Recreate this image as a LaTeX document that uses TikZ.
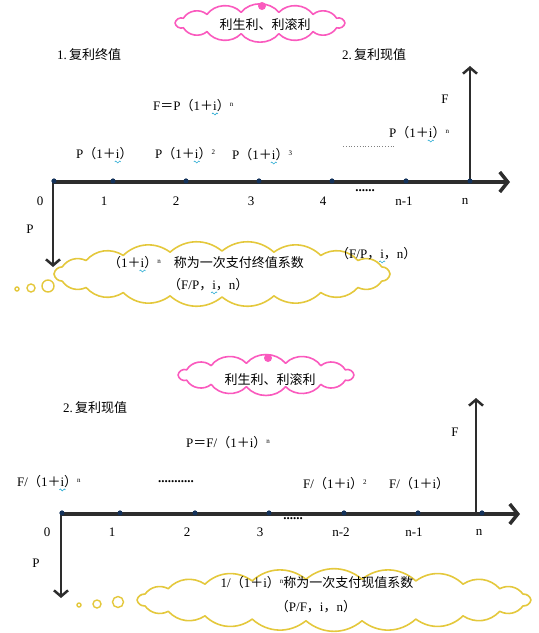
\documentclass[tikz,border=0pt]{standalone}
\usepackage{fontspec}
\setmainfont{Liberation Serif}
\newfontfamily\cjk{Noto Sans CJK SC}
\usetikzlibrary{arrows.meta}
\definecolor{pinkc}{RGB}{250,90,190}
\definecolor{yelc}{RGB}{228,200,60}
\definecolor{axc}{RGB}{45,45,45}
\definecolor{dotc}{RGB}{20,50,90}
\definecolor{wavec}{RGB}{40,170,210}
\newcommand\lp{{\cjk （}}
\newcommand\rp{{\cjk ）}}
\newcommand\cm{{\cjk ，}}
\newcommand\pl{{\cjk ＋}}
\newcommand\eq{{\cjk ＝}}
\newcommand\wi{\ooalign{i\cr\hidewidth\smash{\tikz[baseline=0pt,x=1pt,y=1pt]\draw[wavec,line width=0.6pt] (0,-3) sin (1,-2) cos (2,-3) sin (3,-4) cos (4,-3) sin (5,-2) cos (6,-3);}\hidewidth\cr}}
\newcommand\sn{\raisebox{0.75ex}{\fontsize{7}{7}\selectfont n}}
\newcommand\sq[1]{\raisebox{0.75ex}{\fontsize{7}{7}\selectfont #1}}
% cloud: cx, cy, rx, ry, N, N-1, bend, style
\newcommand\cloudshape[8]{%
  \draw[#8] ({#1+#3},{#2})
    \foreach \k in {1,...,#6}{ to[bend left=#7] ({#1+#3*cos(\k*360/#5)},{#2+#4*sin(\k*360/#5)}) }
    to[bend left=#7] cycle;}
\begin{document}
\begin{tikzpicture}[x=1pt,y=-1pt,
  every node/.style={inner sep=0pt, font=\fontsize{13}{15}\selectfont},
  lbl/.style={anchor=west},
  pinkline/.style={draw=pinkc, line width=1.6pt, fill=white, line join=round},
  yelline/.style={draw=yelc, line width=1.6pt, fill=white, line join=round},
  axisline/.style={line width=3.5pt, draw=axc, -{Straight Barb[length=8pt,width=20pt]}},
  vec/.style={line width=2.5pt, draw=axc, -{Straight Barb[length=6pt,width=14pt]}},
  tickdot/.style={circle, fill=dotc, minimum size=5pt, inner sep=0pt},
  bub/.style={circle, draw=yelc, line width=1.4pt, fill=white, inner sep=0pt},
  pdot/.style={circle, fill=pinkc, minimum size=8pt, inner sep=0pt}
]
\useasboundingbox (0,0) rectangle (539,633);

% ===================== TOP PART =====================
\cloudshape{260}{23}{85}{11}{14}{13}{50}{pinkline}
\node[pdot] (pd1) at (262,6) {};
\node (t1) at (265,25) {\cjk 利生利、利滚利};

\node[lbl] (h1) at (57,55) {1.\,{\cjk 复利终值}};
\node[lbl] (h2) at (342,55) {2.\,{\cjk 复利现值}};
\node[lbl] (f1) at (153,106) {F\eq P\lp 1\pl\wi\rp\sn};
\node (F1) at (445,99) {F};
\node[lbl] (pn1) at (389,133) {P\lp 1\pl\wi\rp\sn};
\coordinate (dl1) at (343,146);
\coordinate (dl2) at (395,146);
\draw[gray, dotted, line width=0.8pt] (dl1) -- (dl2);
\node[lbl] (pa) at (76,154) {P\lp 1\pl\wi\rp};
\node[lbl] (pb) at (155,154) {P\lp 1\pl\wi\rp\sq{2}};
\node[lbl] (pc) at (232,155) {P\lp 1\pl\wi\rp\sq{3}};

% yellow cloud
\cloudshape{222}{274}{168}{23}{20}{19}{40}{yelline}
\node[bub, minimum size=4pt] (b1) at (17,289) {};
\node[bub, minimum size=8pt] (b2) at (31,288) {};
\node[bub, minimum size=12pt] (b3) at (48,286) {};
\node[lbl] (ct1) at (108,263) {\lp 1\pl\wi\rp\sn\quad{\cjk 称为一次支付终值系数}};
\node[lbl] (ct2) at (168,285) {\lp F/P\cm\wi\cm n\rp};
\node[lbl] (ct3) at (336,254) {\lp F/P\cm\wi\cm n\rp};

% axis
\node[tickdot] (a0) at (54,181) {};
\node[tickdot] (a1) at (113,181) {};
\node[tickdot] (a2) at (186,181) {};
\node[tickdot] (a3) at (259,181) {};
\node[tickdot] (a4) at (332,181) {};
\node[tickdot] (a5) at (406,181) {};
\node[tickdot] (a6) at (470,181) {};
\coordinate (aS) at (52,182);
\coordinate (aE) at (510,182);
\coordinate (dP) at (53,267);
\coordinate (uF) at (470,66);
\coordinate (dS) at (53,180);
\coordinate (uS) at (470,182);
\draw[axisline] (aS) -- (aE);
\draw[vec] (dS) -- (dP);
\draw[vec] (uS) -- (uF);
\foreach \n in {a0,a1,a2,a3,a4,a5,a6} \node[tickdot] at (\n) {};

\node (n0) at (40,201) {0};
\node (n1) at (104,201) {1};
\node (n2) at (176,201) {2};
\node (n3) at (251,201) {3};
\node (n4) at (323,201) {4};
\node (nd) at (365,191) {\bfseries ......};
\node (n5) at (404,201) {n-1};
\node (n6) at (465,201) {n};
\node (P1) at (30,229) {P};

% ===================== BOTTOM PART =====================
\cloudshape{266}{375}{88}{12}{14}{13}{50}{pinkline}
\node[pdot] (pd2) at (268,358) {};
\node (t2) at (270,380) {\cjk 利生利、利滚利};

\node[lbl] (h3) at (63,408) {2.\,{\cjk 复利现值}};
\node[lbl] (f2) at (186,443) {P\eq F/\lp 1\pl i\rp\sn};
\node (F2) at (455,432) {F};
\node[lbl] (qa) at (17,482) {F/\lp 1\pl\wi\rp\sn};
\node[lbl] (qd) at (158,482) {\bfseries ...........};
\node[lbl] (qb) at (303,484) {F/\lp 1\pl i\rp\sq{2}};
\node[lbl] (qc) at (389,484) {F/\lp 1\pl i\rp};

% yellow cloud
\cloudshape{334}{600}{197}{21}{22}{21}{40}{yelline}
\node[bub, minimum size=4pt] (b4) at (79,605) {};
\node[bub, minimum size=8pt] (b5) at (97,604) {};
\node[bub, minimum size=11pt] (b6) at (118,602) {};
\node (ct4) at (317,583) {1/\lp 1\pl i\rp\sn{\cjk 称为一次支付现值系数}};
\node (ct5) at (316,607) {\lp P/F\cm i\cm n\rp};

% axis
\node[tickdot] (c0) at (62,513) {};
\node[tickdot] (c1) at (120,513) {};
\node[tickdot] (c2) at (195,513) {};
\node[tickdot] (c3) at (269,513) {};
\node[tickdot] (c4) at (344,513) {};
\node[tickdot] (c5) at (418,513) {};
\node[tickdot] (c6) at (482,513) {};
\coordinate (cS) at (60,514);
\coordinate (cE) at (520,514);
\coordinate (eP) at (61,598);
\coordinate (eS) at (61,512);
\coordinate (vS) at (476,514);
\coordinate (vF) at (476,398);
\draw[axisline] (cS) -- (cE);
\draw[vec] (eS) -- (eP);
\draw[vec] (vS) -- (vF);
\foreach \n in {c0,c1,c2,c3,c4,c5,c6} \node[tickdot] at (\n) {};

\node (m0) at (47,532) {0};
\node (m1) at (112,532) {1};
\node (m2) at (187,532) {2};
\node (m3) at (260,532) {3};
\node (md) at (293,519) {\bfseries ......};
\node (m4) at (341,532) {n-2};
\node (m5) at (414,532) {n-1};
\node (m6) at (479,532) {n};
\node (P2) at (36,563) {P};
\end{tikzpicture}
\end{document}
